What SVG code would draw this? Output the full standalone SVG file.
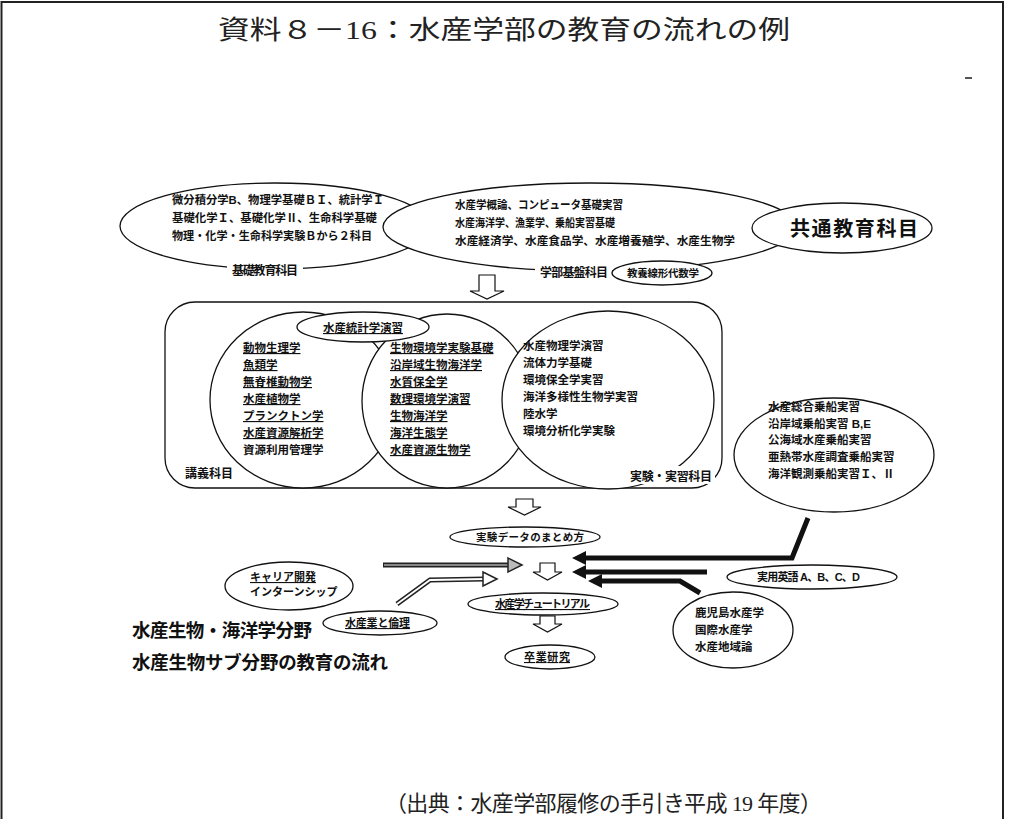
<svg xmlns="http://www.w3.org/2000/svg" width="1009" height="819" viewBox="0 0 1009 819">
<style>
.t{font-family:"Liberation Sans","Noto Sans CJK JP",sans-serif;font-weight:bold;fill:#111}
.s{font-size:11.5px}
.u{text-decoration:underline}
.el{fill:#fff;stroke:#111;stroke-width:1.3}
.ho{fill:#fff;stroke:#111;stroke-width:1.2}
.blk{fill:none;stroke:#111;stroke-width:5;stroke-linejoin:miter}
.gry{fill:none;stroke:#222;stroke-width:5}
.gin{fill:none;stroke:#aaa;stroke-width:1.6}
.win{fill:none;stroke:#fff;stroke-width:1.8}
</style>
<rect width="1009" height="819" fill="#fff"/>
<path d="M1.5 819V2H1003V819" fill="none" stroke="#222" stroke-width="2"/>
<text x="218" y="39" textLength="572" lengthAdjust="spacingAndGlyphs" style="font-family:'Liberation Serif','Noto Sans CJK JP',serif;font-size:26px;fill:#222">資料８－16：水産学部の教育の流れの例</text>
<rect x="965" y="77" width="7" height="2" fill="#555"/>

<g id="kiso">
<ellipse class="el" cx="275" cy="226" rx="155" ry="43"/>
<text class="t s" x="172" y="204" textLength="212" lengthAdjust="spacingAndGlyphs">微分積分学B、物理学基礎ＢＩ、統計学Ｉ</text>
<text class="t s" x="172" y="222" textLength="205" lengthAdjust="spacingAndGlyphs">基礎化学Ｉ、基礎化学Ⅱ、生命科学基礎</text>
<text class="t s" x="172" y="240" textLength="200" lengthAdjust="spacingAndGlyphs">物理・化学・生命科学実験Ｂから２科目</text>
<rect x="227" y="262" width="76" height="16" fill="#fff"/>
<text class="t" x="232" y="275" style="font-size:12px" textLength="66">基礎教育科目</text>
</g>
<g id="gakubu">
<ellipse class="el" cx="590" cy="227" rx="207" ry="44"/>
<text class="t s" x="455" y="209" textLength="168" lengthAdjust="spacingAndGlyphs">水産学概論、コンピュータ基礎実習</text>
<text class="t s" x="455" y="227" textLength="160" lengthAdjust="spacingAndGlyphs">水産海洋学、漁業学、乗船実習基礎</text>
<text class="t s" x="455" y="245" textLength="280" lengthAdjust="spacingAndGlyphs">水産経済学、水産食品学、水産増養殖学、水産生物学</text>
<rect x="535" y="264" width="77" height="16" fill="#fff"/>
<text class="t" x="540" y="277" style="font-size:12px" textLength="68">学部基盤科目</text>
</g>
<g id="kyotsu">
<ellipse class="el" cx="842" cy="228" rx="90" ry="25"/>
<text class="t" x="790" y="236" style="font-size:20px" textLength="128">共通教育科目</text>
</g>
<g id="senkei">
<ellipse class="el" cx="662" cy="273" rx="50" ry="12"/>
<text class="t" x="627" y="277" style="font-size:10.5px" textLength="72">教養線形代数学</text>
</g>

<g id="arrow1"><polygon class="ho" points="479,275 495,275 495,291 504,291 487,299 470,291 479,291"/></g>

<g id="kamoku">
<rect x="165" y="302" width="557" height="186" rx="30" fill="#fff" stroke="#111" stroke-width="1.3"/>
<ellipse class="el" cx="303" cy="400" rx="93" ry="88"/>
<ellipse class="el" cx="447" cy="401" rx="85" ry="87"/>
<ellipse class="el" cx="608" cy="400" rx="106" ry="89"/>
<ellipse class="el" cx="363" cy="327" rx="66" ry="15"/>
<text class="t s u" x="323" y="332" textLength="80">水産統計学演習</text>
<g class="t s u">
<text x="243" y="352">動物生理学</text>
<text x="243" y="369">魚類学</text>
<text x="243" y="386">無脊椎動物学</text>
<text x="243" y="403">水産植物学</text>
<text x="243" y="420">プランクトン学</text>
<text x="243" y="437">水産資源解析学</text>
</g>
<text class="t s" x="243" y="454">資源利用管理学</text>
<g class="t s u">
<text x="390" y="352">生物環境学実験基礎</text>
<text x="390" y="369">沿岸域生物海洋学</text>
<text x="390" y="386">水質保全学</text>
<text x="390" y="403">数理環境学演習</text>
<text x="390" y="420">生物海洋学</text>
<text x="390" y="437">海洋生態学</text>
<text x="390" y="454">水産資源生物学</text>
</g>
<g class="t s">
<text x="523" y="350">水産物理学演習</text>
<text x="523" y="367">流体力学基礎</text>
<text x="523" y="384">環境保全学実習</text>
<text x="523" y="401">海洋多様性生物学実習</text>
<text x="523" y="418">陸水学</text>
<text x="523" y="435">環境分析化学実験</text>
</g>
<text class="t" x="185" y="478" style="font-size:12px">講義科目</text>
<rect x="627" y="466" width="88" height="18" fill="#fff"/>
<text class="t" x="630" y="481" style="font-size:12px" textLength="82">実験・実習科目</text>
</g>

<g id="josen">
<ellipse class="el" cx="834" cy="455" rx="100" ry="57"/>
<g class="t s">
<text x="768" y="411">水産総合乗船実習</text>
<text x="768" y="428">沿岸域乗船実習 B,E</text>
<text x="768" y="444">公海域水産乗船実習</text>
<text x="768" y="461">亜熱帯水産調査乗船実習</text>
<text x="768" y="478">海洋観測乗船実習Ｉ、Ⅱ</text>
</g>
</g>

<g id="arrow2"><polygon class="ho" points="516,499 533,499 533,507 541,507 524.5,515 508,507 516,507"/></g>

<g id="data">
<ellipse class="el" cx="525" cy="537" rx="75" ry="10"/>
<text class="t" x="476" y="541" style="font-size:10.5px" textLength="108">実験データのまとめ方</text>
</g>

<g id="arrow3"><polygon class="ho" points="540,563 555,563 555,572 562,572 547.5,580 533,572 540,572"/></g>
<g id="arrow4"><polygon class="ho" points="540,616 555,616 555,624 562,624 547.5,632 533,624 540,624"/></g>

<g id="career">
<ellipse class="el" cx="289" cy="586" rx="64" ry="24"/>
<text class="t u" x="250" y="581" style="font-size:11px">キャリア開発</text>
<text class="t" x="250" y="596" style="font-size:11px">インターンシップ</text>
</g>
<g id="rinri">
<ellipse class="el" cx="380" cy="623" rx="57" ry="12"/>
<text class="t u" x="345" y="627" style="font-size:11px" textLength="65">水産業と倫理</text>
</g>
<g id="tutorial">
<ellipse class="el" cx="543" cy="604" rx="75" ry="11"/>
<text class="t u" x="495" y="608" style="font-size:11px" textLength="95">水産学チュートリアル</text>
</g>
<g id="sotsuken">
<ellipse class="el" cx="550" cy="657" rx="45" ry="12"/>
<text class="t u" x="524" y="661" style="font-size:11px" textLength="46">卒業研究</text>
</g>
<g id="eigo">
<ellipse class="el" cx="812" cy="577" rx="85" ry="12"/>
<text class="t" x="757" y="581" style="font-size:11px" textLength="103">実用英語 A、B、C、D</text>
</g>
<g id="kagoshima">
<ellipse class="el" cx="733" cy="630" rx="60" ry="38"/>
<g class="t s">
<text x="695" y="617">鹿児島水産学</text>
<text x="695" y="634">国際水産学</text>
<text x="695" y="651">水産地域論</text>
</g>
</g>

<g id="captions">
<text class="t" x="132" y="637" style="font-size:18.5px" textLength="180">水産生物・海洋学分野</text>
<text class="t" x="132" y="669" style="font-size:18.5px" textLength="256">水産生物サブ分野の教育の流れ</text>
</g>

<g id="connectors">
<polyline class="blk" points="808,518 792,558 584,558"/>
<polygon points="572,558 586,551 586,565" fill="#111"/>
<line class="blk" x1="707" y1="572" x2="584" y2="572"/>
<polygon points="572,572 586,565 586,579" fill="#111"/>
<polyline class="blk" points="700,593 680,581 600,581"/>
<polygon points="588,581 602,574 602,588" fill="#111"/>
<line class="gry" x1="383" y1="565" x2="510" y2="565"/>
<line class="gin" x1="384" y1="565" x2="510" y2="565"/>
<polygon points="522,565 508,558 508,572" fill="#bbb" stroke="#222" stroke-width="1.5"/>
<polyline class="gry" points="397,604 430,580 485,579"/>
<polyline class="win" points="397,604 430,580 485,579"/>
<polygon points="497,579 483,572 483,586" fill="#fff" stroke="#222" stroke-width="1.5"/>
</g>

<text x="385" y="811" textLength="437" style="font-family:'Liberation Serif','Noto Sans CJK JP',serif;font-size:22px;fill:#222">（出典：水産学部履修の手引き平成 19 年度）</text>
</svg>
